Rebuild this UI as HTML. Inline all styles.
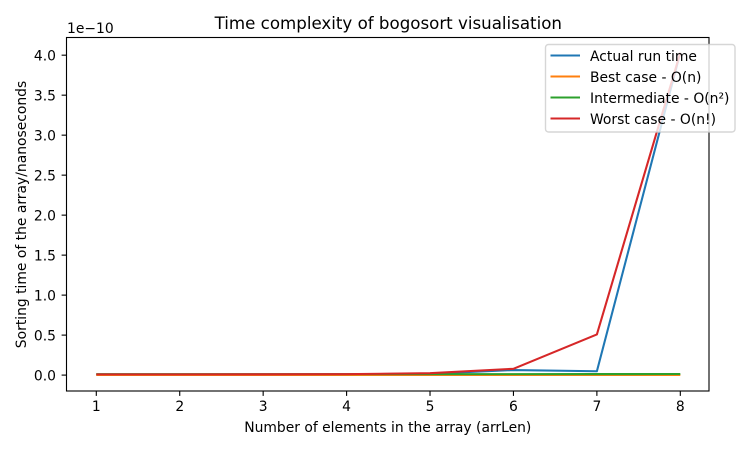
<!DOCTYPE html>
<html>
<head>
<meta charset="utf-8">
<style>
html,body{margin:0;padding:0;background:#fff;width:749px;height:449px;overflow:hidden}
svg{display:block}
text{font-family:"DejaVu Sans","Liberation Sans",sans-serif;fill:#000;font-size:13.89px}
</style>
</head>
<body>
<svg id="chart" xmlns="http://www.w3.org/2000/svg" width="749" height="449" viewBox="0 0 749 449">
<rect x="0" y="0" width="749" height="449" fill="#fff"/>
<text id="chart-title" x="388.3" y="29" text-anchor="middle" style="font-size:16.67px">Time complexity of bogosort visualisation</text>
<text x="67" y="33">1e−10</text>
<text x="387.8" y="432" text-anchor="middle">Number of elements in the array (arrLen)</text>
<text transform="translate(26,214.5) rotate(-90)" text-anchor="middle">Sorting time of the array/nanoseconds</text>
<g id="ticks"></g>
<g id="series"></g>
<rect x="66.5" y="37.5" width="642.5" height="353.5" fill="none" stroke="#000" stroke-width="1.11"/>
<g id="legend">
<rect x="545.5" y="44.5" width="189.5" height="87.5" rx="3" ry="3" fill="#fff" fill-opacity="0.8" stroke="#ccc" stroke-opacity="0.8" stroke-width="1.39"/>
</g>
</svg>
<script>
const categories = [1, 2, 3, 4, 5, 6, 7, 8];
const actualRunTime = [0.008, 0.008, 0.009, 0.01, 0.018, 0.063, 0.048, 4.032];
const bestCase = [0.001, 0.001, 0.001, 0.001, 0.001, 0.001, 0.001, 0.001];
const intermediateCase = [0.012, 0.012, 0.012, 0.012, 0.012, 0.012, 0.013, 0.014];
const worstCase = [0.009, 0.009, 0.01, 0.012, 0.024, 0.079, 0.508, 4.032];
const xTickLabels = ['1', '2', '3', '4', '5', '6', '7', '8'];
const yTickLabels = ['0.0', '0.5', '1.0', '1.5', '2.0', '2.5', '3.0', '3.5', '4.0'];
const seriesNames = ['Actual run time', 'Best case - O(n)', 'Intermediate - O(n²)', 'Worst case - O(n!)'];
const seriesColors = ['#1f77b4', '#ff7f0e', '#2ca02c', '#d62728'];
const seriesValues = [actualRunTime, bestCase, intermediateCase, worstCase];

const NS = 'http://www.w3.org/2000/svg';
function xScale(v) { return 96.3 + (v - 1) * 83.43; }
function yScale(v) { return 375.1 - v * 79.98; }

function make(tag, attrs, parent) {
  const el = document.createElementNS(NS, tag);
  for (const k in attrs) el.setAttribute(k, attrs[k]);
  parent.appendChild(el);
  return el;
}

const ticks = document.getElementById('ticks');
xTickLabels.forEach(function (label) {
  const x = xScale(Number(label));
  const t = make('line', { x1: x, x2: x, y1: 391, y2: 395.9, stroke: '#000', 'stroke-width': 1.11 }, ticks);
  
  
  const l = make('text', { x: x, y: 411, 'text-anchor': 'middle' }, ticks);
  
  
  l.textContent = label;
});
yTickLabels.forEach(function (label) {
  const y = yScale(Number(label));
  const t = make('line', { x1: 66.5, x2: 61.6, y1: y, y2: y, stroke: '#000', 'stroke-width': 1.11 }, ticks);
  
  
  const l = make('text', { x: 56, y: y + 5.2, 'text-anchor': 'end' }, ticks);
  
  
  l.textContent = label;
});

const seriesGroup = document.getElementById('series');
seriesValues.forEach(function (values, i) {
  const pts = values.map(function (v, j) { return xScale(categories[j]) + ',' + yScale(v); }).join(' ');
  const line = make('polyline', { points: pts, fill: 'none', stroke: seriesColors[i], 'stroke-width': 2.08, 'stroke-linejoin': 'round', 'stroke-linecap': 'butt' }, seriesGroup);
  
  
});

const legend = document.getElementById('legend');
seriesNames.forEach(function (name, i) {
  const y = 55.5 + i * 21;
  const h = make('line', { x1: 550.5, x2: 580, y1: y, y2: y, stroke: seriesColors[i], 'stroke-width': 2.08 }, legend);
  
  
  const t = make('text', { x: 590, y: y + 5.5 }, legend);
  
  
  t.textContent = name;
});
</script>
</body>
</html>
